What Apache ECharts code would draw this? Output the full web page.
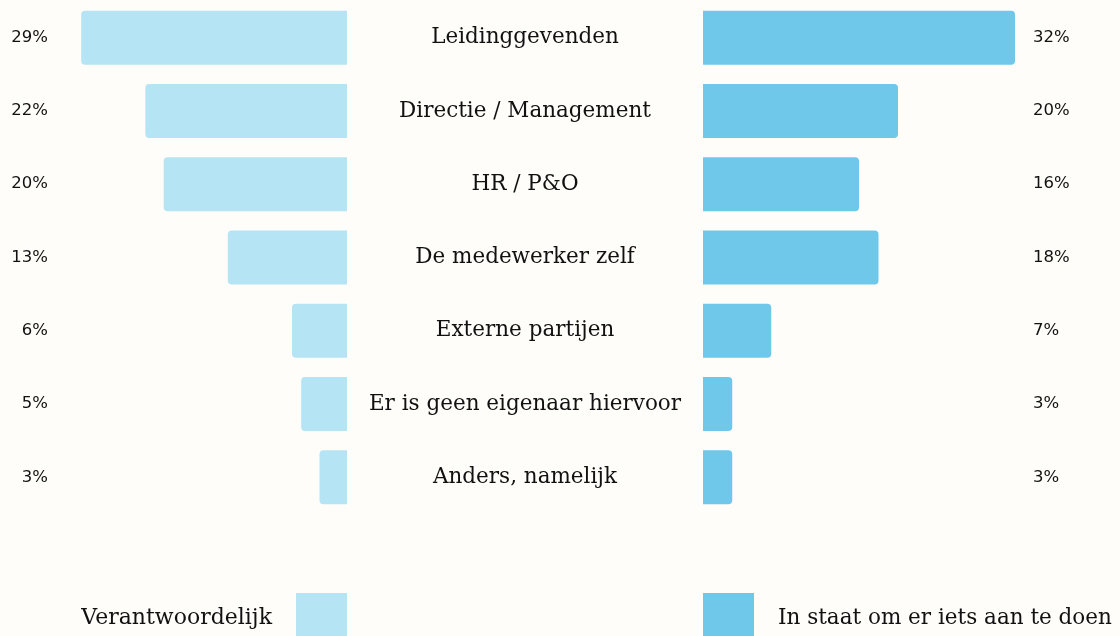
<!DOCTYPE html>
<html>
<head>
<meta charset="utf-8">
<script src="https://cdn.jsdelivr.net/npm/echarts@6/dist/echarts.min.js"></script>
<style>
  html, body { margin: 0; padding: 0; background: #fffdf9; }
  #main { width: 1120px; height: 636px; }
</style>
</head>
<body>
<div id="main"></div>
<script>
var categories = ['Leidinggevenden', 'Directie / Management', 'HR / P&O', 'De medewerker zelf',
        'Externe partijen', 'Er is geen eigenaar hiervoor', 'Anders, namelijk'];
var verantwoordelijk = [29, 22, 20, 13, 6, 5, 3];
var inStaat = [32, 20, 16, 18, 7, 3, 3];
var seriesNames = ['Verantwoordelijk', 'In staat om er iets aan te doen'];

var lightBlue = '#b5e4f4';
var darkBlue = '#6fc8ea';
var serif = '"DejaVu Serif", serif';
var sans = '"DejaVu Sans", sans-serif';

var chart = echarts.init(document.getElementById('main'));

function pct(arr) {
        return arr.map(function (v) { return v + '%'; });
}

chart.setOption({
        backgroundColor: '#fffdf9',
        animation: false,
        legend: [
                {
                        data: [seriesNames[0]],
                        right: 773,
                        top: 593,
                        align: 'right',
                        itemWidth: 51,
                        itemHeight: 51,
                        icon: 'rect',
                        selectedMode: false,
                        padding: 0,
                        textStyle: { fontFamily: serif, fontSize: 22, color: '#111', padding: [0, 19, 0, 0] }
                },
                {
                        data: [seriesNames[1]],
                        left: 703,
                        top: 593,
                        itemWidth: 51,
                        itemHeight: 51,
                        icon: 'rect',
                        selectedMode: false,
                        padding: 0,
                        textStyle: { fontFamily: serif, fontSize: 21.5, color: '#111', padding: [0, 0, 0, 19] }
                }
        ],
        grid: [
                { left: 72, width: 275, top: 1, height: 513 },
                { left: 703, width: 312, top: 1, height: 513 }
        ],
        xAxis: [
                { gridIndex: 0, type: 'value', min: 0, max: 30, inverse: true, show: false },
                { gridIndex: 1, type: 'value', min: 0, max: 32, show: false }
        ],
        yAxis: [
                {
                        gridIndex: 0, type: 'category', data: pct(verantwoordelijk), inverse: true,
                        position: 'left',
                        axisLine: { show: false }, axisTick: { show: false },
                        axisLabel: { margin: 24, fontFamily: sans, fontSize: 16.5, color: '#111' }
                },
                {
                        gridIndex: 1, type: 'category', data: pct(inStaat), inverse: true,
                        position: 'right',
                        axisLine: { show: false }, axisTick: { show: false },
                        axisLabel: { margin: 18, fontFamily: sans, fontSize: 16.5, color: '#111' }
                },
                {
                        gridIndex: 0, type: 'category', data: categories, inverse: true,
                        position: 'right',
                        axisLine: { show: false }, axisTick: { show: false },
                        axisLabel: { margin: 178, align: 'center', fontFamily: serif, fontSize: 21.5, color: '#111' }
                }
        ],
        series: [
                {
                        name: seriesNames[0],
                        type: 'bar',
                        xAxisIndex: 0,
                        yAxisIndex: 0,
                        barWidth: 54,
                        itemStyle: { color: lightBlue, borderRadius: [4, 0, 0, 4] },
                        data: verantwoordelijk
                },
                {
                        name: seriesNames[1],
                        type: 'bar',
                        xAxisIndex: 1,
                        yAxisIndex: 1,
                        barWidth: 54,
                        itemStyle: { color: darkBlue, borderRadius: [0, 4, 4, 0] },
                        data: inStaat
                }
        ]
});
</script>
</body>
</html>
